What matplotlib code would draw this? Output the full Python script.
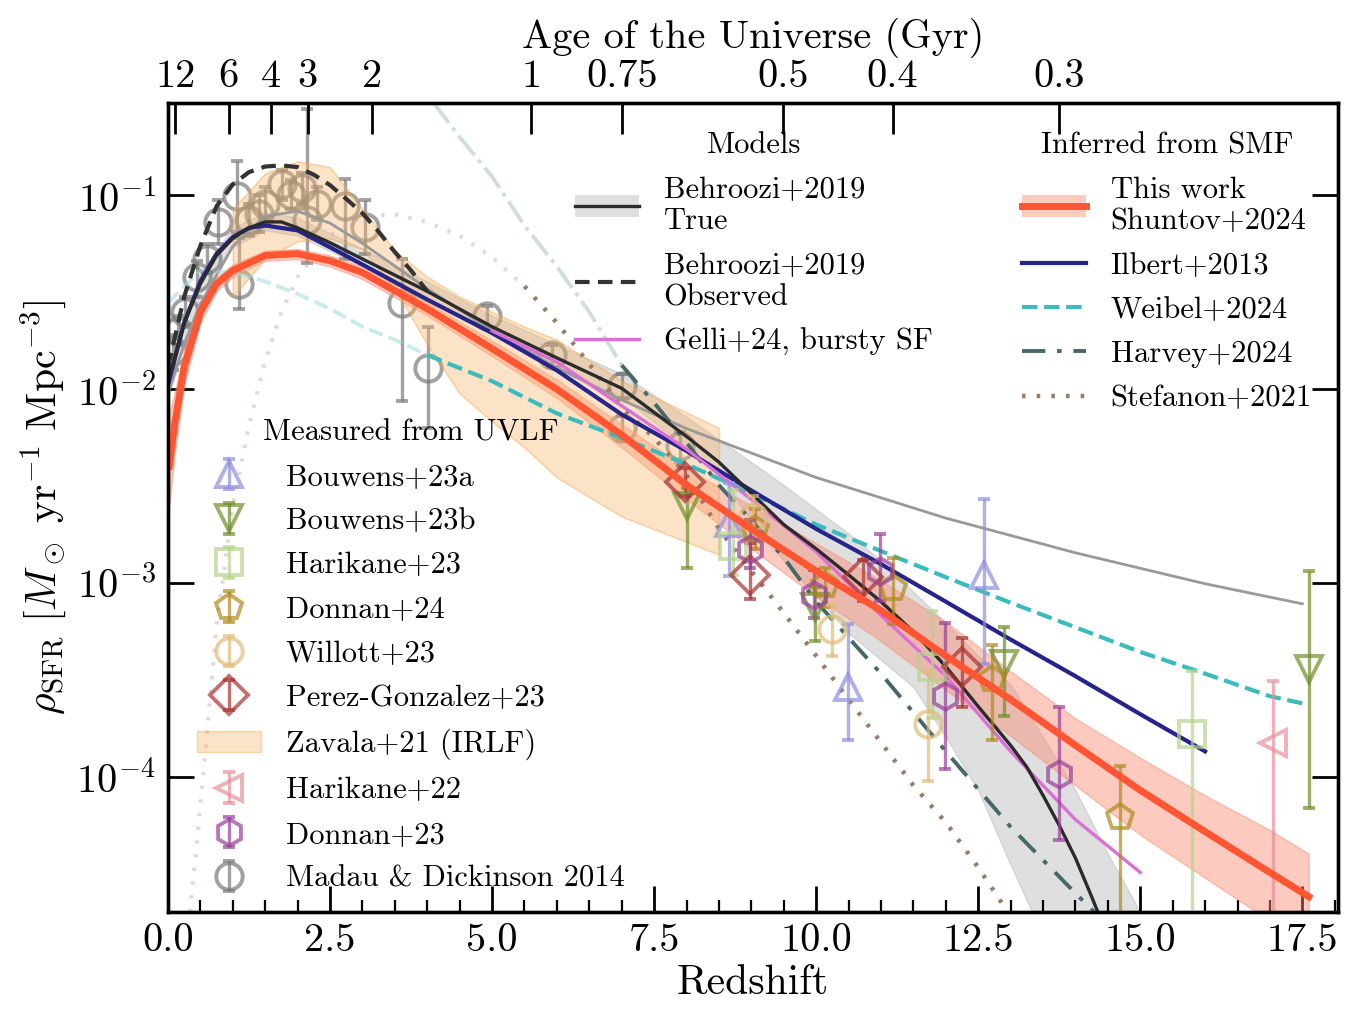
import numpy as np
import matplotlib

matplotlib.use("Agg")
import matplotlib.pyplot as plt
from matplotlib.patches import Patch
from matplotlib.lines import Line2D

plt.rcParams.update({
    "font.family": "serif",
    "font.serif": ["cmr10"],
    "mathtext.fontset": "cm",
    "axes.formatter.use_mathtext": True,
    "axes.unicode_minus": False,
})

# ---------------- models ----------------
# Behroozi+2019 "true" SFRD and its band
beh_z = [0, 0.25, 0.5, 0.75, 1.0, 1.25, 1.5, 1.75, 2.0, 2.5, 3.0, 4.0, 5.0, 6.0, 7.0,
         8.0, 8.5, 9.0, 9.5, 10.0, 10.5, 11.0, 11.5, 12.0, 12.5, 13.0, 13.25, 13.5, 13.75,
         14.0, 14.25, 14.4]
beh_true = [0.011, 0.022, 0.035, 0.049, 0.060, 0.068, 0.073, 0.073, 0.068, 0.057, 0.047,
            0.032, 0.021, 0.0145, 0.0101, 0.0057, 0.0042, 0.0029, 0.0020, 0.0015, 0.0011,
            0.00080, 0.00056, 0.00037, 0.00023, 0.000145, 0.000112, 0.000080, 0.000056,
            0.000038, 0.000024, 0.000018]
beh_band_z = [0, 0.5, 1, 1.5, 2, 3, 4, 5, 6, 7, 8, 8.5, 9, 9.5, 10, 10.5, 11, 11.5, 12,
              12.5, 13, 13.5, 14, 14.5, 15, 15.5]
beh_hi = [0.013, 0.040, 0.068, 0.082, 0.077, 0.053, 0.036, 0.024, 0.017, 0.012, 0.0072,
          0.0055, 0.0042, 0.0032, 0.0024, 0.0018, 0.0013, 0.00090, 0.00062, 0.00042,
          0.00030, 0.00016, 0.000085, 0.000040, 0.000020, 0.000010]
beh_lo = [0.009, 0.031, 0.054, 0.066, 0.062, 0.043, 0.029, 0.019, 0.013, 0.0091, 0.0050,
          0.0036, 0.0021, 0.0013, 0.00085, 0.00055, 0.00040, 0.00029, 0.00016, 0.000085,
          0.000035, 0.000015, 0.00001, 0.00001, 0.00001, 0.00001]

# Behroozi+2019 "observed"
obs_z = [0, 0.25, 0.5, 0.75, 1.0, 1.25, 1.5, 1.75, 2.0, 2.25, 2.5, 2.75, 3.0, 3.25, 3.5, 3.75, 4.0]
obs_v = [0.013, 0.030, 0.055, 0.088, 0.114, 0.132, 0.141, 0.143, 0.140, 0.128, 0.113, 0.096,
         0.081, 0.065, 0.051, 0.041, 0.032]

# thin grey curve (Madau & Dickinson fit)
md_fit_z = [0, 0.25, 0.5, 1.0, 1.5, 2.0, 2.5, 3.0, 4.0, 5.0, 6.0, 7.0, 8.0, 10.0, 12.0,
            14.0, 16.0, 17.5]
md_fit_v = [0.0095, 0.0171, 0.0276, 0.0546, 0.0781, 0.0830, 0.0719, 0.0566, 0.0330, 0.0200,
            0.0129, 0.0088, 0.00626, 0.0035, 0.00216, 0.00143, 0.00099, 0.00078]

# Gelli+24 bursty SF
gelli_z = [5, 6, 7, 8, 9, 10, 11, 12, 13, 14, 15]
gelli_v = [0.020, 0.0138, 0.0082, 0.0049, 0.0027, 0.00145, 0.00068, 0.00033,
           0.000135, 0.00006, 0.000032]

# ---------------- inferred from SMF ----------------
tw_z = [0.02, 0.1, 0.25, 0.5, 0.75, 1.0, 1.5, 2.0, 2.5, 3.0, 4.0, 5.0, 6.0, 7.0, 8.0, 9.0,
        10.0, 11.0, 12.0, 13.0, 14.0, 15.0, 16.0, 17.0, 17.6]
tw_v = [0.004, 0.0065, 0.013, 0.025, 0.035, 0.041, 0.049, 0.050, 0.046, 0.040, 0.026, 0.0162,
        0.0100, 0.0058, 0.0032, 0.0019, 0.00115, 0.00072, 0.00042, 0.00025, 0.000145,
        0.000085, 0.000052, 0.000032, 0.000024]
tw_hi = [0.0075, 0.0095, 0.016, 0.028, 0.038, 0.044, 0.052, 0.053, 0.049, 0.043, 0.028,
         0.0178, 0.0112, 0.0066, 0.0039, 0.0025, 0.0016, 0.00103, 0.00063, 0.00035, 0.00020,
         0.000125, 0.00008, 0.000053, 0.00004]
tw_lo = [0.0025, 0.0045, 0.0105, 0.022, 0.032, 0.038, 0.046, 0.047, 0.043, 0.037, 0.024,
         0.0148, 0.0090, 0.0050, 0.0027, 0.0015, 0.00085, 0.00050, 0.00028, 0.000162,
         0.00009, 0.00005, 0.00003, 0.000018, 0.000013]

ilbert_z = [0, 0.25, 0.5, 0.75, 1.0, 1.25, 1.5, 2, 2.5, 3, 4, 5, 6, 7, 8, 9, 10, 11, 12, 13,
            14, 15, 16]
ilbert_v = [0.0105, 0.022, 0.036, 0.050, 0.061, 0.068, 0.070, 0.066, 0.054, 0.044, 0.029,
            0.0195, 0.0125, 0.0074, 0.0048, 0.0030, 0.0019, 0.00125, 0.00080, 0.00051,
            0.00033, 0.00021, 0.000135]

weibel_faint_z = [0, 0.5, 1.0, 1.5, 2.0, 2.5, 3.0, 3.5, 4.0]
weibel_faint_v = [0.028, 0.041, 0.040, 0.036, 0.031, 0.026, 0.021, 0.018, 0.015]
weibel_z = [4, 5, 6, 7, 8, 9, 10, 11, 12, 13, 14, 15, 16, 17, 17.6]
weibel_v = [0.015, 0.011, 0.0075, 0.0056, 0.0041, 0.0029, 0.0020, 0.00146, 0.00107, 0.00079,
            0.00059, 0.00044, 0.00034, 0.00026, 0.000235]

harvey_faint_z = [4.1, 4.5, 5.0, 5.5, 6.0, 6.5, 7.0]
harvey_faint_v = [0.30, 0.20, 0.125, 0.070, 0.043, 0.025, 0.0133]
harvey_z = [7.0, 7.5, 8.0, 8.5, 9.0, 9.5, 10, 11, 12, 13, 14, 14.5]
harvey_v = [0.0133, 0.0085, 0.0053, 0.0032, 0.0021, 0.00135, 0.00080, 0.00034, 0.000135,
            0.000055, 0.000025, 0.000017]

stef_faint_z = [0.34, 0.5, 0.75, 1.0, 1.25, 1.5, 1.75, 2.0, 2.5, 3.0, 3.5, 4.0, 4.5, 5.0, 5.5]
stef_faint_v = [0.00002, 0.00007, 0.0006, 0.0025, 0.0065, 0.014, 0.025, 0.038, 0.062, 0.078,
                0.080, 0.073, 0.062, 0.048, 0.034]
stef_z = [5.5, 6.0, 6.5, 7.0, 7.5, 8.0, 8.5, 9.0, 9.5, 10, 10.5, 11, 11.5, 12, 12.5, 13]
stef_v = [0.034, 0.022, 0.0135, 0.0080, 0.0056, 0.0036, 0.0019, 0.00115, 0.0007, 0.00042,
          0.00025, 0.00015, 0.00009, 0.000058, 0.000034, 0.000019]

# Zavala+21 IRLF band
zav_z = [1.0, 1.5, 2.0, 2.5, 3.0, 3.5, 4.0, 4.5, 5.0, 5.5, 6.0, 7.0, 8.5]
zav_hi = [0.085, 0.13, 0.15, 0.14, 0.085, 0.052, 0.038, 0.030, 0.025, 0.021, 0.018, 0.011, 0.0063]
zav_lo = [0.030, 0.047, 0.058, 0.060, 0.053, 0.033, 0.017, 0.0095, 0.0068, 0.005, 0.0035,
          0.0022, 0.0014]

# ---------------- measured from UVLF (z, value, low, high) ----------------
bouwens_a = [(8.65, 0.00204, 0.00109, 0.00327), (10.49, 0.00029, 0.000155, 0.00061),
             (12.59, 0.0011, 0.00038, 0.0027)]
bouwens_b = [(8.0, 0.0025, 0.0012, 0.0031), (9.98, 0.00075, 0.0005, 0.00095),
             (12.89, 0.00038, 0.000206, 0.00059), (17.6, 0.00036, 0.000069, 0.00115)]
harikane23 = [(8.72, 0.00155, 0.0011, 0.0030), (11.79, 0.00037, 0.0002, 0.00072),
              (15.8, 0.000166, 0.00001, 0.00035)]
donnan24 = [(9.05, 0.0019, 0.0015, 0.0024), (10.14, 0.00098, 0.00075, 0.0012),
            (11.19, 0.00094, 0.00061, 0.00135), (12.72, 0.00032, 0.000155, 0.00048),
            (14.69, 0.000062, 0.00001, 0.000114)]
willott23 = [(9.03, 0.0022, 0.0017, 0.0028), (10.25, 0.00058, 0.00042, 0.00077),
             (11.73, 0.000187, 0.000095, 0.00035)]
perez23 = [(7.97, 0.0033, 0.0028, 0.0039), (8.98, 0.0011, 0.00083, 0.0016),
           (10.73, 0.00107, 0.00081, 0.00131), (12.25, 0.00037, 0.00023, 0.00052)]
harikane22 = [(17.04, 0.00015, 0.00001, 0.00031)]
donnan23 = [(8.98, 0.0015, 0.0012, 0.0021), (9.96, 0.00087, 0.00066, 0.00116),
            (10.99, 0.00115, 0.00081, 0.00178), (11.99, 0.00026, 0.00011, 0.00062),
            (13.74, 0.000103, 0.000047, 0.00023)]
madau14 = [(0.08, 0.0157, 0.0125, 0.019), (0.15, 0.020, 0.017, 0.024), (0.26, 0.025, 0.021, 0.030),
           (0.45, 0.038, 0.030, 0.046), (0.60, 0.047, 0.040, 0.056), (0.77, 0.073, 0.056, 0.095),
           (1.06, 0.099, 0.065, 0.15), (1.10, 0.035, 0.026, 0.060), (1.25, 0.075, 0.062, 0.09),
           (1.40, 0.080, 0.065, 0.10), (1.50, 0.090, 0.075, 0.11), (1.76, 0.115, 0.095, 0.135),
           (1.90, 0.100, 0.085, 0.12), (2.07, 0.109, 0.09, 0.13), (2.15, 0.075, 0.045, 0.28),
           (2.30, 0.090, 0.075, 0.11), (2.73, 0.088, 0.047, 0.122), (3.04, 0.069, 0.050, 0.095),
           (3.61, 0.0277, 0.0087, 0.047), (4.01, 0.0129, 0.0063, 0.021), (4.92, 0.024, 0.021, 0.027),
           (5.93, 0.0150, 0.013, 0.017), (7.0, 0.0104, 0.009, 0.012), (7.0, 0.0063, 0.0054, 0.0073),
           (7.9, 0.0051, 0.0042, 0.006)]

# age-axis ticks (Gyr)
ages = [12, 6, 4, 3, 2, 1, 0.75, 0.5, 0.4, 0.3]
age_labels = ["12", "6", "4", "3", "2", "1", "0.75", "0.5", "0.4", "0.3"]


def z_of_age(t, h0=70.0, om=0.3):
    ol = 1.0 - om
    hubble_time = 977.8 / h0  # Gyr
    a = 2.0 / 3.0 * hubble_time / np.sqrt(ol)
    x = np.sinh(np.asarray(t) / a) / np.sqrt(ol / om)
    return x ** (-2.0 / 3.0) - 1.0


def plot_points(ax, data, marker, color, label, zorder=4):
    z = np.array([d[0] for d in data])
    v = np.array([d[1] for d in data])
    lo = np.array([d[2] for d in data])
    hi = np.array([d[3] for d in data])
    return ax.errorbar(z, v, yerr=[v - lo, hi - v], fmt=marker, mfc="none", mec=color,
                       ecolor=color, mew=2.8, ms=19, elinewidth=2.4, capsize=4.5,
                       capthick=2.4, alpha=0.7, label=label, zorder=zorder)


fig = plt.figure(figsize=(13.47, 10.10), dpi=100)
ax = fig.add_axes([0.1247, 0.097, 0.8686, 0.801])
ax.set_yscale("log")
ax.set_xlim(0, 18.05)
ax.set_ylim(2.0e-5, 0.30)

# bands
ax.fill_between(beh_band_z, beh_lo, beh_hi, color="#b0b0b0", alpha=0.4, lw=1, zorder=1)
ax.fill_between(tw_z, tw_lo, tw_hi, color="#f98a70", alpha=0.45, lw=1, zorder=2)

# MD14 points sit below the Zavala band
h_md = plot_points(ax, madau14, "o", "#7a7a7a", "Madau & Dickinson 2014", zorder=1.5)
ax.fill_between(zav_z, zav_lo, zav_hi, facecolor="#f9b66c", edgecolor="#f5a040",
                alpha=0.38, lw=1.2, zorder=2.5)

# lines
ax.plot(md_fit_z, md_fit_v, color="#999999", lw=2, zorder=3)
ax.plot(stef_faint_z, stef_faint_v, color="#c8a8a8", lw=3, ls=(0, (0.8, 2.5)), alpha=0.45, zorder=3)
ax.plot(stef_z, stef_v, color="#9a7d66", lw=3.2, ls=(0, (0.8, 2.5)), zorder=3)
ax.plot(harvey_faint_z, harvey_faint_v, color="#9ab5b5", lw=2.8, ls="-.", alpha=0.45, zorder=3)
ax.plot(harvey_z, harvey_v, color="#466868", lw=2.8, ls=(0, (6, 3, 1.2, 3)), zorder=3)
ax.plot(weibel_faint_z, weibel_faint_v, color="#9fdcdc", lw=2.8, ls="--", alpha=0.55, zorder=3)
ax.plot(weibel_z, weibel_v, color="#3bbcbc", lw=3, ls="--", zorder=3)
ax.plot(ilbert_z, ilbert_v, color="#24248a", lw=3, zorder=3)
ax.plot(gelli_z, gelli_v, color="#da70d6", lw=2.4, zorder=3)
ax.plot(obs_z, obs_v, color="#333333", lw=3, ls=(0, (3.5, 2)), zorder=3)
ax.plot(beh_z, beh_true, color="#2b2b2b", lw=2.4, zorder=3.5)
ax.plot(tw_z, tw_v, color="#ff5533", lw=5, zorder=5)

# UVLF points
h_ba = plot_points(ax, bouwens_a, "^", "#8f8fdf", "Bouwens+23a")
h_bb = plot_points(ax, bouwens_b, "v", "#6f8f2a", "Bouwens+23b")
h_h23 = plot_points(ax, harikane23, "s", "#b6d38a", "Harikane+23")
h_d24 = plot_points(ax, donnan24, "p", "#b08a1c", "Donnan+24")
h_w23 = plot_points(ax, willott23, "o", "#e0bc78", "Willott+23")
h_pg = plot_points(ax, perez23, "D", "#a83232", "Perez-Gonzalez+23")
h_h22 = plot_points(ax, harikane22, "<", "#e8909a", "Harikane+22")
h_d23 = plot_points(ax, donnan23, "h", "#9a3f9a", "Donnan+23")
h_zav = Patch(facecolor="#f9b66c", edgecolor="#f5a040", alpha=0.38, label="Zavala+21 (IRLF)")

# axes styling
ax.set_xticks([0, 2.5, 5, 7.5, 10, 12.5, 15, 17.5])
ax.set_xticklabels(["0.0", "2.5", "5.0", "7.5", "10.0", "12.5", "15.0", "17.5"])
ax.set_xticks(np.arange(0, 18.01, 0.5), minor=True)
ax.tick_params(axis="both", which="major", direction="in", length=19, width=2,
               labelsize=29, right=True, top=False)
ax.tick_params(axis="both", which="minor", direction="in", length=8.5, width=1.6,
               right=True, top=False)
ax.tick_params(axis="x", which="major", pad=8)
ax.tick_params(axis="y", which="major", pad=9)
for s in ax.spines.values():
    s.set_linewidth(2.4)
ax.set_xlabel("Redshift", fontsize=30, labelpad=4)
ax.set_ylabel(r"$\rho_{\rm SFR}\ [M_\odot\ {\rm yr}^{-1}\ {\rm Mpc}^{-3}]$", fontsize=30,
              labelpad=6)

ax2 = ax.twiny()
ax2.set_xlim(ax.get_xlim())
ax2.set_xticks(z_of_age(ages))
ax2.set_xticklabels(age_labels)
ax2.minorticks_off()
ax2.tick_params(axis="x", direction="in", length=22, width=2, labelsize=29, pad=6)
ax2.set_xlabel("Age of the Universe (Gyr)", fontsize=29, labelpad=8)
for s in ax2.spines.values():
    s.set_linewidth(2.4)

# legends
leg_kw = dict(frameon=False, fontsize=22, title_fontsize=22, borderpad=0, borderaxespad=0,
              handlelength=2.1, handletextpad=0.8, labelspacing=0.55,
              bbox_transform=fig.transFigure, loc="upper left")

m_true = (Patch(facecolor="#b0b0b0", alpha=0.4), Line2D([], [], color="#2b2b2b", lw=2.4))
m_obs = Line2D([], [], color="#333333", lw=3, ls=(0, (3.5, 2)))
m_gelli = Line2D([], [], color="#da70d6", lw=2.4)
leg1 = ax2.legend([m_true, m_obs, m_gelli],
                  ["Behroozi+2019\nTrue", "Behroozi+2019\nObserved", "Gelli+24, bursty SF"],
                  title="Models", bbox_to_anchor=(575 / 1347, 1 - 132 / 1010), **leg_kw)
ax2.add_artist(leg1)

s_tw = (Patch(facecolor="#f98a70", alpha=0.45), Line2D([], [], color="#ff5533", lw=5))
s_il = Line2D([], [], color="#24248a", lw=3)
s_we = Line2D([], [], color="#3bbcbc", lw=3, ls="--")
s_ha = Line2D([], [], color="#466868", lw=2.8, ls=(0, (6, 3, 1.2, 3)))
s_st = Line2D([], [], color="#9a7d66", lw=3.2, ls=(0, (0.8, 2.5)))
leg2 = ax2.legend([s_tw, s_il, s_we, s_ha, s_st],
                  ["This work\nShuntov+2024", "Ilbert+2013", "Weibel+2024", "Harvey+2024",
                   "Stefanon+2021"],
                  title="Inferred from SMF", bbox_to_anchor=(1022 / 1347, 1 - 132 / 1010),
                  **leg_kw)
ax2.add_artist(leg2)

uv_handles = [h_ba, h_bb, h_h23, h_d24, h_w23, h_pg, h_zav, h_h22, h_d23, h_md]
uv_labels = ["Bouwens+23a", "Bouwens+23b", "Harikane+23", "Donnan+24", "Willott+23",
             "Perez-Gonzalez+23", "Zavala+21 (IRLF)", "Harikane+22", "Donnan+23",
             "Madau & Dickinson 2014"]
leg3 = ax2.legend(uv_handles, uv_labels, title="Measured from UVLF",
                  bbox_to_anchor=(197 / 1347, 1 - 419 / 1010), **leg_kw)

fig.savefig("out.png", dpi=100)
